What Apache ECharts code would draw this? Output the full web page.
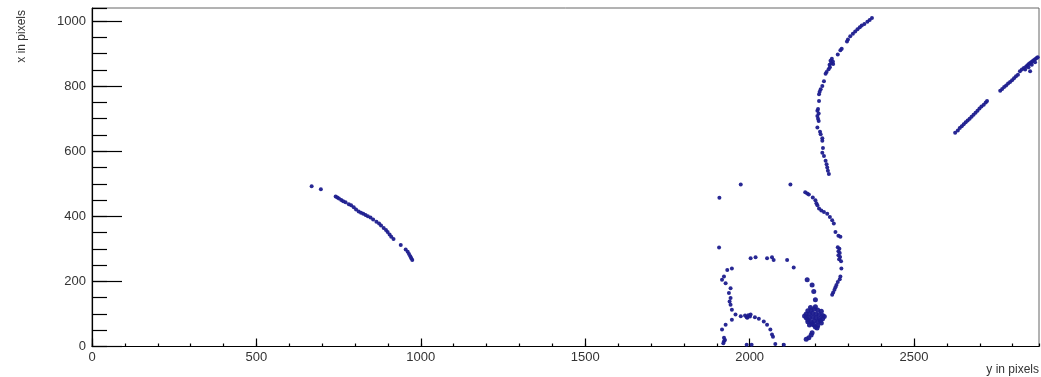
<!DOCTYPE html>
<html>
<head>
<meta charset="utf-8">
<script src="https://cdn.jsdelivr.net/npm/echarts@6/dist/echarts.min.js"></script>
<style>
html,body{margin:0;padding:0;background:#fff;}
#c{width:1041px;height:377px;}
</style>
</head>
<body>
<div id="c"></div>
<script>
// Axis ranges and tick labels
const xRange = [0, 2880];
const yRange = [0, 1040];
const xTickLabels = [0, 500, 1000, 1500, 2000, 2500];
const yTickLabels = [0, 200, 400, 600, 800, 1000];
const xTitle = 'y in pixels';
const yTitle = 'x in pixels';

// Hit clusters [y in pixels, x in pixels]
const leftArc = [
  [668,492],[696,483],[741,461],[746,458],[751,455],[758,450],[764,446],[771,443],[781,437],[788,434],
  [796,428],[803,421],[811,415],[818,411],[825,408],[832,404],[839,400],[847,396],[855,390],[865,383],
  [873,378],[879,372],[887,364],[894,358],[899,352],[905,344],[910,337],[917,330],[939,312],[954,298],
  [960,291],[964,284],[968,277],[971,271],[974,266]
];
const diagonalTrack = [
  [2625,657],[2633,664],[2639,671],[2645,677],[2651,683],[2657,689],[2663,694],[2669,700],[2675,706],
  [2681,712],[2687,718],[2693,724],[2699,731],[2705,737],[2712,743],[2718,750],[2722,754],
  [2762,786],[2768,791],[2774,797],[2780,802],[2786,808],[2792,813],[2798,818],[2804,824],[2810,830],[2816,835],
  [2822,846],[2828,851],[2834,856],[2841,860],[2845,864],[2849,868],[2853,871],[2857,874],[2861,877],
  [2865,880],[2869,883],[2873,886],[2876,889],[2838,851],[2848,858],[2858,866],[2868,873],[2853,846]
];
const upperArc = [
  [2372,1009],[2365,1003],[2358,998],[2349,991],[2341,986],[2335,981],[2328,975],[2321,968],[2314,961],
  [2306,953],[2299,943],[2296,937],[2280,915],[2276,910],[2268,897],[2250,884],[2246,878],[2253,876],
  [2248,870],[2243,866],[2254,868],[2244,858],[2240,852],[2234,843],[2231,838],[2226,815],[2221,800],
  [2216,790],[2213,783],[2211,775],[2211,754],[2208,730],[2206,724],[2210,716],[2206,708],[2208,700],
  [2210,693],[2206,673],[2214,660],[2216,652],[2221,640],[2221,632],[2223,610],[2221,595],[2226,585],
  [2231,571],[2234,560],[2236,550],[2238,540],[2241,530]
];
const middleArc = [
  [2124,498],[2169,474],[2175,470],[2180,467],[2192,458],[2200,449],[2203,440],[2206,434],[2211,424],
  [2218,418],[2226,413],[2236,408],[2244,398],[2251,388],[2256,378],[2261,352],[2270,340],[2276,337],
  [2268,305],[2273,300],[2270,293],[2274,287],[2270,280],[2275,275],[2272,268],[2278,262],[2279,240],
  [2276,215],[2274,207],[2268,198],[2264,189],[2261,182],[2258,174],[2254,166],[2251,159]
];
const bottomBlob = [
  [2175,205],[2190,189],[2195,169],[2200,144],[2177,110],[2187,112],[2197,115],[2207,112],[2218,108],
  [2172,100],[2182,100],[2192,102],[2202,100],[2212,98],[2222,95],[2172,88],[2182,88],[2192,90],
  [2202,88],[2212,86],[2222,85],[2177,76],[2187,76],[2197,78],[2207,75],[2218,72],[2182,66],[2195,66],
  [2207,64],[2205,57],[2190,42],[2180,27],[2187,35],[2172,22],
  [2185,120],[2200,122],[2167,94],[2227,92],[2177,82],[2215,80],[2190,70],[2200,60]
];
const leftLoop = [
  [1973,498],[1908,457],[1907,304],[2003,271],[2018,274],[2053,271],[2068,274],[2073,266],[2114,266],
  [2134,243],[1946,240],[1932,235],[1922,215],[1916,205],[1927,194],[1942,179],[1937,164],[1942,149],
  [1939,138],[1942,128],[1946,113],[1957,98],[1973,93],[1986,95],[1991,90],[1996,96],[2001,92],
  [1993,88],[2003,98],[2016,90],[2028,85],[2043,77],[2053,67],[2063,52],[2068,37],[2071,30],
  [1946,82],[1927,67],[1916,52],[1922,27],[1922,16],[1920,10],[1925,20],[2078,8],[2104,5],[1991,5],[2006,5]
];

const chart = echarts.init(document.getElementById('c'), null, {renderer: 'canvas'});
const labelFont = {fontFamily: 'Liberation Sans, Arial, sans-serif', fontSize: 13, color: '#333'};
const hitColor = '#1c1c8e';

function hitSeries(data, size) {
  return {
    type: 'scatter', xAxisIndex: 0, yAxisIndex: 0,
    symbol: 'circle', symbolSize: size,
    itemStyle: {color: hitColor, opacity: 0.95},
    data: data
  };
}

chart.setOption({
  animation: false,
  backgroundColor: '#fff',
  grid: {left: 92, right: 2, top: 8, bottom: 30.5, show: true, borderColor: '#666', borderWidth: 1, backgroundColor: 'transparent'},
  xAxis: [
    {
      type: 'value', min: xRange[0], max: xRange[1], interval: 500, position: 'bottom',
      axisLine: {show: true, lineStyle: {color: '#000', width: 1.2}},
      axisTick: {show: true, inside: true, length: 8, lineStyle: {color: '#000', width: 1.2}},
      axisLabel: Object.assign({margin: 4, showMaxLabel: false,
        formatter: v => xTickLabels.indexOf(v) >= 0 ? String(v) : ''}, labelFont),
      splitLine: {show: false}
    },
    {
      type: 'value', min: xRange[0], max: xRange[1], interval: 100, position: 'bottom',
      axisLine: {show: false},
      axisTick: {show: true, inside: true, length: 3, lineStyle: {color: '#000', width: 1.2}},
      axisLabel: {show: false},
      splitLine: {show: false}
    }
  ],
  yAxis: [
    {
      type: 'value', min: yRange[0], max: yRange[1], interval: 200, position: 'left',
      axisLine: {show: true, lineStyle: {color: '#000', width: 1.2}},
      axisTick: {show: true, inside: true, length: 30, lineStyle: {color: '#000', width: 1.2}},
      axisLabel: Object.assign({margin: 6, showMaxLabel: false,
        formatter: v => yTickLabels.indexOf(v) >= 0 ? String(v) : ''}, labelFont),
      splitLine: {show: false}
    },
    {
      type: 'value', min: yRange[0], max: yRange[1], interval: 50, position: 'left',
      axisLine: {show: false},
      axisTick: {show: true, inside: true, length: 15, lineStyle: {color: '#000', width: 1.2}},
      axisLabel: {show: false},
      splitLine: {show: false}
    }
  ],
  graphic: [
    {type: 'text', x: 1039, y: 370,
     style: {text: xTitle, textAlign: 'right', textVerticalAlign: 'middle', fill: '#333', font: '12px Liberation Sans, Arial, sans-serif'}},
    {type: 'text', x: 22, y: 10, rotation: Math.PI / 2,
     style: {text: yTitle, textAlign: 'right', textVerticalAlign: 'middle', fill: '#333', font: '12px Liberation Sans, Arial, sans-serif'}}
  ],
  series: [
    hitSeries(leftArc, 4),
    hitSeries(diagonalTrack, 4),
    hitSeries(upperArc, 4),
    hitSeries(middleArc, 4),
    hitSeries(bottomBlob, 5),
    hitSeries(leftLoop, 4)
  ]
});
</script>
</body>
</html>
